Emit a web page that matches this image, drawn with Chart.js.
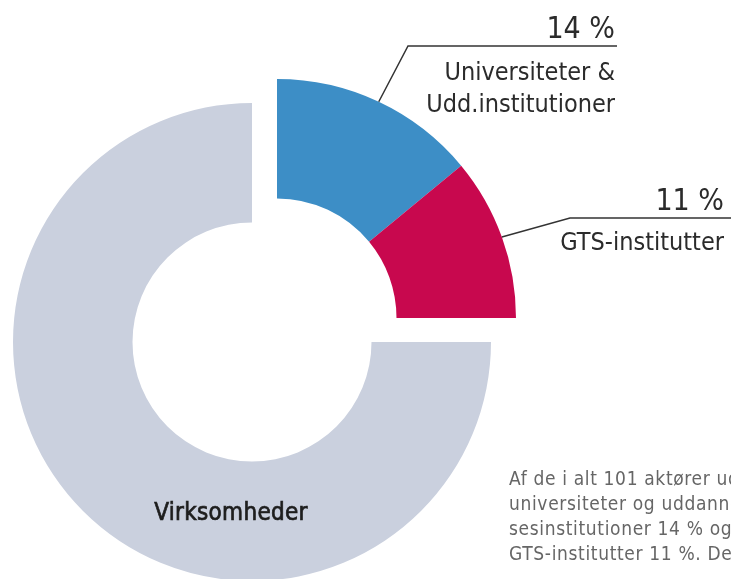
<!DOCTYPE html>
<html>
<head>
<meta charset="utf-8">
<script src="https://cdn.jsdelivr.net/npm/chart.js@4.4.1/dist/chart.umd.min.js"></script>
<style>
  html, body { margin: 0; padding: 0; background: #fff; overflow: hidden; }
  #wrap { position: relative; width: 731px; height: 579px; overflow: hidden; }
  #tekst {
    position: absolute; left: 509px; top: 466px;
    font: 19px "DejaVu Sans Condensed", "Liberation Sans Narrow", sans-serif;
    letter-spacing: 0.65px;
    color: #666; line-height: 25px; white-space: nowrap;
  }
</style>
</head>
<body>
<div id="wrap">
  <canvas id="chartAktoerer" width="731" height="579"></canvas>
  <div id="tekst">
    Af de i alt 101 aktører udgør<br>
    universiteter og uddannelses-<br>
    sesinstitutioner 14 % og<br>
    GTS-institutter 11 %. Det
  </div>
</div>
<script>
// Data
const kategorier = ["Universiteter & Udd.institutioner", "GTS-institutter", "Virksomheder"];
const andele = [14, 11, 75];
const etiketter = [["Universiteter &", "Udd.institutioner"], ["GTS-institutter"], ["Virksomheder"]];
const farver = ["#3d8ec6", "#c8084e", "#cad0de"];

const font = '"DejaVu Sans Condensed", "Liberation Sans Narrow", sans-serif';

// Blå og rød del er skubbet op mod højre
const skub = { dx: 25, dy: -24 };

// Placering af labels (knæk på linje, slut på linje, tekst)
const callouts = [
  { knaek: [408, 46], slut: 617, tekstX: 615, pctY: 38, linjerY: [80, 112] },
  { knaek: [570, 218], slut: 731, tekstX: 724, pctY: 210, linjerY: [250] }
];

const skubPlugin = {
  id: "skub",
  afterUpdate(chart) {
    const meta = chart.getDatasetMeta(0);
    meta.data.forEach((arc, i) => {
      if (i < 2) {
        arc.x += skub.dx;
        arc.y += skub.dy;
      }
    });
  }
};

const labelPlugin = {
  id: "labels",
  afterDraw(chart) {
    const ctx = chart.ctx;
    const meta = chart.getDatasetMeta(0);
    ctx.save();
    callouts.forEach((c, i) => {
      const arc = meta.data[i];
      const mid = (arc.startAngle + arc.endAngle) / 2;
      const sx = arc.x + Math.cos(mid) * arc.outerRadius;
      const sy = arc.y + Math.sin(mid) * arc.outerRadius;
      ctx.strokeStyle = "#333";
      ctx.lineWidth = 1.5;
      ctx.beginPath();
      ctx.moveTo(sx, sy);
      ctx.lineTo(c.knaek[0], c.knaek[1]);
      ctx.lineTo(c.slut, c.knaek[1]);
      ctx.stroke();

      ctx.fillStyle = "#2b2b2b";
      ctx.textAlign = "right";
      ctx.textBaseline = "alphabetic";
      ctx.font = "30px " + font;
      ctx.fillText(andele[i] + " %", c.tekstX, c.pctY);
      ctx.font = "25px " + font;
      etiketter[i].forEach((t, j) => ctx.fillText(t, c.tekstX, c.linjerY[j]));
    });
    // Virksomheder inde i den grå ring
    ctx.textAlign = "center";
    ctx.font = "24px " + font;
    ctx.letterSpacing = "0.3px";
    ctx.fillStyle = "#1e1e1e";
    ctx.strokeStyle = "#1e1e1e";
    ctx.lineWidth = 0.7;
    ctx.fillText(etiketter[2][0], 231, 520);
    ctx.strokeText(etiketter[2][0], 231, 520);
    ctx.restore();
  }
};

const ctx = document.getElementById("chartAktoerer").getContext("2d");
new Chart(ctx, {
  type: "doughnut",
  data: {
    labels: kategorier,
    datasets: [{
      data: andele,
      backgroundColor: farver,
      borderWidth: 0
    }]
  },
  options: {
    responsive: false,
    animation: false,
    events: [],
    radius: 239,
    cutout: "50%",
    layout: { padding: { left: 0, right: 227, top: 105, bottom: 0 } },
    plugins: {
      legend: { display: false },
      tooltip: { enabled: false }
    }
  },
  plugins: [skubPlugin, labelPlugin]
});
</script>
</body>
</html>
